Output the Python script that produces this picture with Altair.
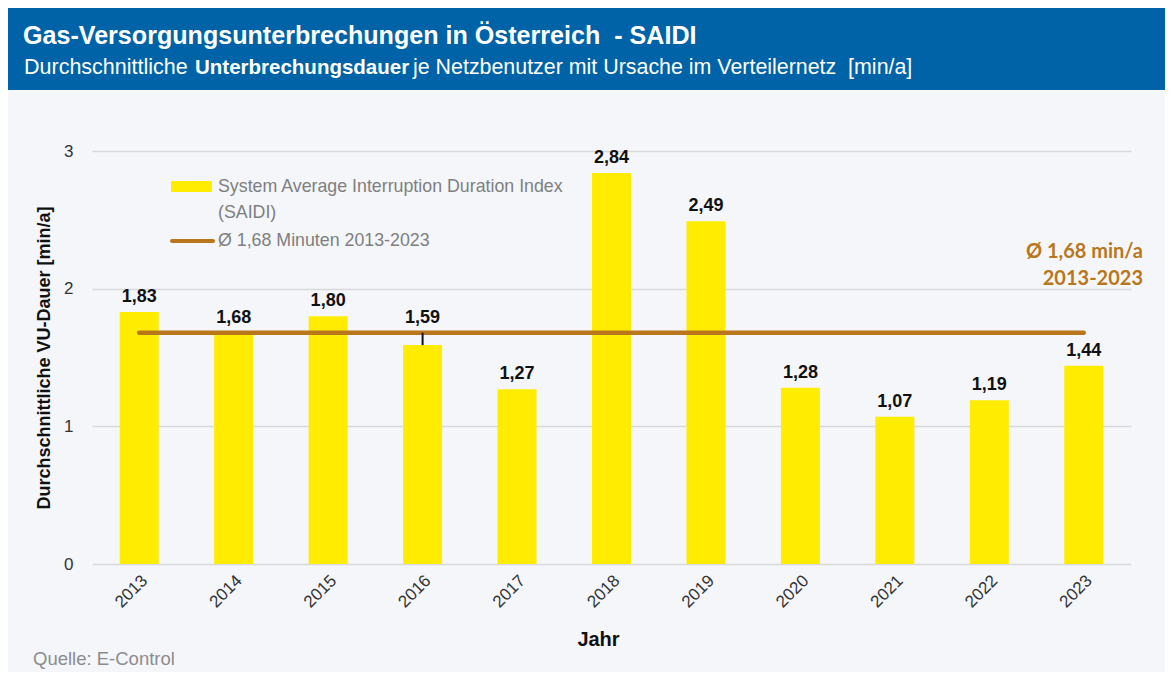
import altair as alt
import pandas as pd

years = ["2013", "2014", "2015", "2016", "2017", "2018", "2019", "2020", "2021", "2022", "2023"]
saidi = [1.83, 1.68, 1.80, 1.59, 1.27, 2.84, 2.49, 1.28, 1.07, 1.19, 1.44]
labels = ["1,83", "1,68", "1,80", "1,59", "1,27", "2,84", "2,49", "1,28", "1,07", "1,19", "1,44"]
avg_value = 1.68
avg_from, avg_to = "2013", "2023"

title_text = "Gas-Versorgungsunterbrechungen in Österreich \u00a0- SAIDI"
sub_parts = ["Durchschnittliche", "Unterbrechungsdauer",
             "je Netzbenutzer mit Ursache im Verteilernetz \u00a0[min/a]"]
legend_labels = ["System Average Interruption Duration Index", "(SAIDI)", "Ø 1,68 Minuten 2013-2023"]
annot_lines = ["Ø 1,68 min/a", "2013-2023"]
source_text = "Quelle: E-Control"
y_title = "Durchschnittliche VU-Dauer [min/a]"
x_title = "Jahr"

YELLOW = "#FFEC00"
BROWN = "#B9761A"
BLUE = "#0063A7"
BG = "#F4F6FA"
FONT = "Liberation Sans"

W, H = 1039, 413
PL, PT = 84, 143
PR = 1157 - PL - W
PB = 664 - PT - H
OX, OY = 92, 151  # page position of plot origin (for header/legend decorations)

df = pd.DataFrame({"year": years, "value": saidi, "label": labels})
avg_df = pd.DataFrame({"x1": [avg_from], "x2": [avg_to], "y": [avg_value]})
one = pd.DataFrame({"k": [0]})

xscale = alt.Scale(domain=years, paddingInner=0, paddingOuter=0)
yscale = alt.Scale(domain=[0, 3])

bars = alt.Chart(df).mark_bar(width=39, color=YELLOW).encode(
    x=alt.X("year:N", scale=xscale, sort=years,
            axis=alt.Axis(title=x_title, labelAngle=-45, labelFontSize=17, labelColor="#333333",
                          labelFont=FONT, titleFont=FONT, titleFontSize=20, titleFontWeight="bold",
                          titleColor="#111111", domain=False, ticks=False, labelPadding=8,
                          titleX=506, titleY=81, titleBaseline="alphabetic")),
    y=alt.Y("value:Q", scale=yscale,
            axis=alt.Axis(title=y_title, values=[0, 1, 2, 3], format="d", labelFontSize=17,
                          labelColor="#333333", labelFont=FONT, titleFont=FONT, titleFontSize=18,
                          titleFontWeight="bold", titleColor="#111111", domain=False, ticks=False,
                          labelPadding=19, titlePadding=10, gridColor="#D9D9D9", gridWidth=1.5)),
)

# labels that would collide with the average line are lifted above it (with a leader line)
lab_base = alt.Chart(df).transform_calculate(
    near=f"datum.value < {avg_value} && {avg_value} - datum.value < 0.2",
    ylab=f"(datum.value < {avg_value} && {avg_value} - datum.value < 0.2) ? {avg_value} : datum.value",
)
bar_labels = lab_base.mark_text(baseline="alphabetic", dy=-10, fontSize=18, fontWeight="bold",
                                font=FONT, color="#111111").encode(
    x=alt.X("year:N", scale=xscale, sort=years), y=alt.Y("ylab:Q", scale=yscale), text="label:N")
leaders = lab_base.transform_filter("datum.near").mark_rule(color="#111111", strokeWidth=2).encode(
    x=alt.X("year:N", scale=xscale, sort=years), y=alt.Y("value:Q", scale=yscale), y2="ylab:Q")

avg_rule = alt.Chart(avg_df).mark_rule(color=BROWN, strokeWidth=4.5, strokeCap="round").encode(
    x=alt.X("x1:N", scale=xscale, sort=years), x2="x2:N", y=alt.Y("y:Q", scale=yscale))

# header band
header = alt.Chart(one).mark_rect(color=BLUE).encode(
    x=alt.value(-PL), x2=alt.value(W + PR), y=alt.value(-PT), y2=alt.value(-PT + 82))
title_mark = alt.Chart(one).mark_text(align="left", baseline="alphabetic", fontSize=25.1, fontWeight="bold",
                                      font=FONT, color="white").encode(
    x=alt.value(23 - OX), y=alt.value(44 - OY), text=alt.value(title_text))
sub_x = [24, 195, 413]
sub_w = ["normal", "bold", "normal"]
sub_fs = [21.5, 20.5, 21.4]
subs = [alt.Chart(one).mark_text(align="left", baseline="alphabetic", fontSize=fs, fontWeight=w,
                                 font=FONT, color="white").encode(
    x=alt.value(sx - OX), y=alt.value(74 - OY), text=alt.value(t))
    for t, sx, w, fs in zip(sub_parts, sub_x, sub_w, sub_fs)]

# legend
leg_rect = alt.Chart(one).mark_rect(color=YELLOW).encode(
    x=alt.value(79), x2=alt.value(120), y=alt.value(30), y2=alt.value(41))
leg_line = alt.Chart(one).mark_rule(color=BROWN, strokeWidth=4, strokeCap="round").encode(
    x=alt.value(80), x2=alt.value(121), y=alt.value(90))
leg_texts = [alt.Chart(one).mark_text(align="left", baseline="alphabetic", fontSize=17.8, font=FONT,
                                      color="#7F7F7F").encode(
    x=alt.value(126), y=alt.value(ly), text=alt.value(t))
    for t, ly in zip(legend_labels, [41, 67, 95])]

annot = alt.Chart(one).mark_text(align="right", baseline="middle", fontSize=20, fontWeight="bold",
                                 font="Lato", color=BROWN, lineBreak="\n", lineHeight=27).encode(
    x=alt.value(1143 - OX), y=alt.value(101), text=alt.value("\n".join(annot_lines)))

source = alt.Chart(one).mark_text(align="left", baseline="middle", fontSize=18.5, font=FONT,
                                  color="#8C8C8C").encode(
    x=alt.value(33 - OX), y=alt.value(659 - OY), text=alt.value(source_text))

chart = alt.layer(header, title_mark, *subs, bars, avg_rule, leaders, bar_labels, leg_rect, leg_line,
                  *leg_texts, annot, source).properties(
    width=W, height=H, background=BG,
    padding={"left": PL, "top": PT, "right": PR, "bottom": PB},
    autosize=alt.AutoSizeParams(type="none"),
).configure_view(stroke=None)

chart.save("out.html", embed_options={"renderer": "svg", "actions": False})
